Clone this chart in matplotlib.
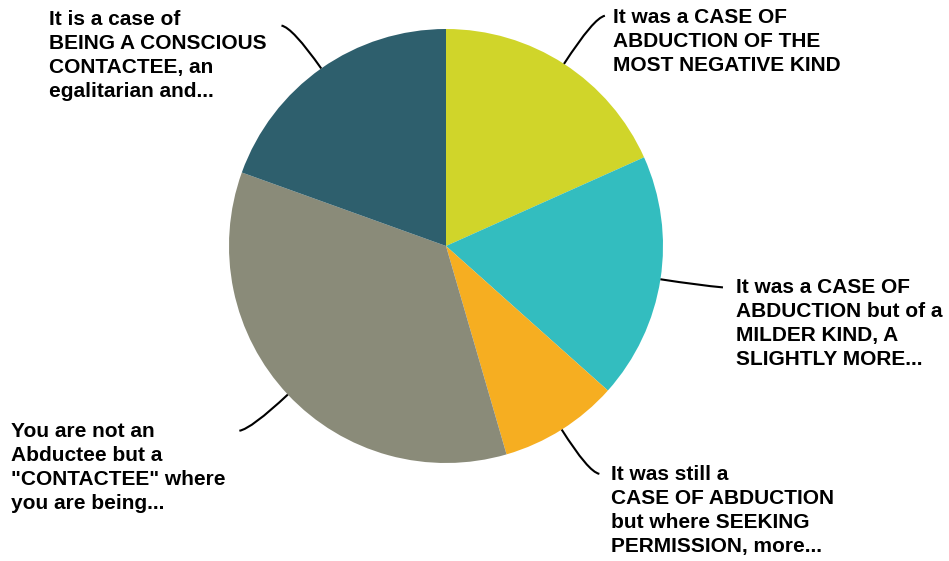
import numpy as np
import matplotlib.pyplot as plt
from matplotlib.path import Path
from matplotlib.patches import PathPatch

W, H = 949, 561

labels = ["It was a CASE OF\nABDUCTION OF THE\nMOST NEGATIVE KIND",
          "It was a CASE OF\nABDUCTION but of a\nMILDER KIND, A\nSLIGHTLY MORE...",
          "It was still a\nCASE OF ABDUCTION\nbut where SEEKING\nPERMISSION, more...",
          "You are not an\nAbductee but a\n\"CONTACTEE\" where\nyou are being...",
          "It is a case of\nBEING A CONSCIOUS\nCONTACTEE, an\negalitarian and..."]
values = [18.3, 18.3, 8.9, 35.0, 19.5]
colors = ["#d0d52a", "#33bdbf", "#f6ae21", "#8a8b79", "#2e5f6d"]

# label anchor (pixels from top-left) and leader settings
text_pos = [(613, 8), (736, 278), (611, 465), (11, 422), (49, 10)]
ext = [55, 40, 50, 50, 50]
hook = [11, 23, 11, -12, -11]

cx, cy, r = 446, H - 246, 217

plt.rcParams['font.family'] = ['Liberation Sans', 'DejaVu Sans']
fig = plt.figure(figsize=(W / 100, H / 100), dpi=100)
ax = fig.add_axes([0, 0, 1, 1])

wedges, _ = ax.pie(values, colors=colors, startangle=90, counterclock=False,
                   center=(cx, cy), radius=r, frame=True)
ax.set_xlim(0, W)
ax.set_ylim(0, H)
ax.set_aspect('equal')
ax.axis('off')

for w, lab, (tx, ty), e, hk in zip(wedges, labels, text_pos, ext, hook):
    mid = np.deg2rad((w.theta1 + w.theta2) / 2)
    p0 = (cx + r * np.cos(mid), cy + r * np.sin(mid))
    p1 = (cx + (r + e) * np.cos(mid), cy + (r + e) * np.sin(mid))
    p2 = (p1[0] + hk, p1[1] + 2 * np.sign(np.sin(mid)))
    path = Path([p0, p1, p2], [Path.MOVETO, Path.CURVE3, Path.CURVE3])
    ax.add_patch(PathPatch(path, fc='none', ec='black', lw=1.5))
    ax.text(tx, H - ty, lab, ha='left', va='top', fontsize=15,
            fontweight='bold', linespacing=1.33)

plt.savefig("out.png", dpi=100)
